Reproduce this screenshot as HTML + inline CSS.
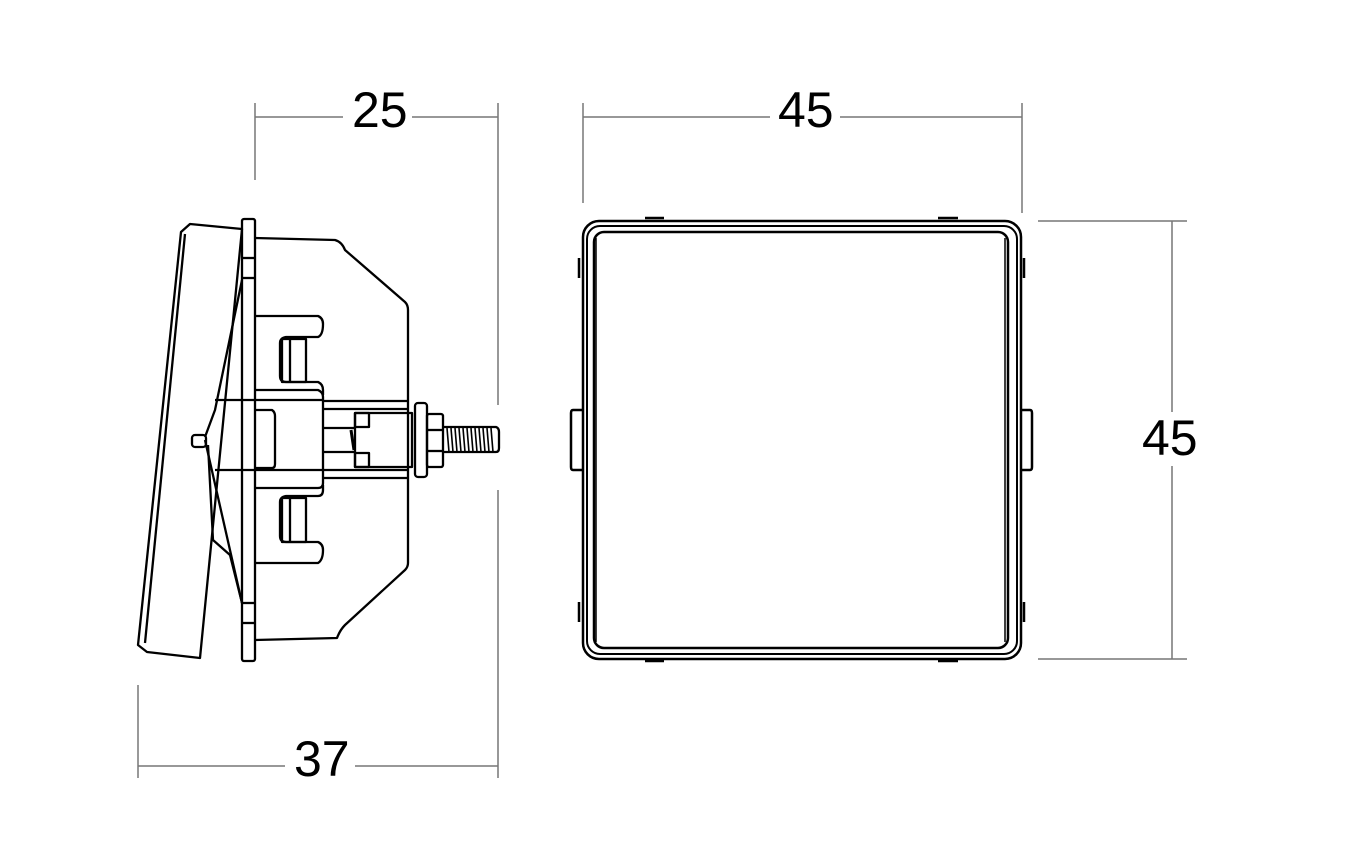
<!DOCTYPE html>
<html><head><meta charset="utf-8"><style>
html,body{margin:0;padding:0;background:#fff}
svg{display:block}
text{font-family:"Liberation Sans",Arial,sans-serif;font-size:50px;fill:#000}
</style></head><body>
<svg width="1360" height="857" viewBox="0 0 1360 857" xmlns="http://www.w3.org/2000/svg">
<g stroke="#777" stroke-width="1.5" fill="none">
  <!-- 25 -->
  <line x1="255" y1="117" x2="343" y2="117"/><line x1="412" y1="117" x2="498" y2="117"/>
  <line x1="255" y1="103" x2="255" y2="180"/>
  <line x1="498" y1="103" x2="498" y2="405"/><line x1="498" y1="490" x2="498" y2="778"/>
  <!-- 45 top -->
  <line x1="583" y1="117" x2="770" y2="117"/><line x1="840" y1="117" x2="1022" y2="117"/>
  <line x1="583" y1="103" x2="583" y2="203"/><line x1="1022" y1="103" x2="1022" y2="213"/>
  <!-- 45 right -->
  <line x1="1038" y1="221" x2="1187" y2="221"/><line x1="1038" y1="659" x2="1187" y2="659"/>
  <line x1="1172" y1="221" x2="1172" y2="412"/><line x1="1172" y1="466" x2="1172" y2="659"/>
  <!-- 37 -->
  <line x1="138" y1="766" x2="285" y2="766"/><line x1="355" y1="766" x2="498" y2="766"/>
  <line x1="138" y1="685" x2="138" y2="778"/>
</g>
<text x="352" y="127">25</text>
<text x="778" y="127">45</text>
<text x="1142" y="455">45</text>
<text x="294" y="776">37</text>

<!-- Front view -->
<g stroke="#000" stroke-width="2.5" fill="none">
  <rect x="583" y="221" width="438" height="438" rx="16"/>
  <rect x="587" y="226" width="430" height="428" rx="13" stroke-width="2"/>
  <rect x="594" y="232" width="414" height="416" rx="10"/>
  <line x1="596" y1="238" x2="596" y2="642" stroke-width="1.5"/>
  <line x1="1005" y1="238" x2="1005" y2="642" stroke-width="1.5"/>
  <path d="M583 410 H573 Q571 410 571 413 V467 Q571 470 573 470 H583"/>
  <path d="M1021 410 H1030 Q1032 410 1032 413 V467 Q1032 470 1030 470 H1021"/>
  <line x1="579" y1="258" x2="579" y2="278"/><line x1="579" y1="602" x2="579" y2="622"/>
  <line x1="1024" y1="258" x2="1024" y2="278"/><line x1="1024" y1="602" x2="1024" y2="622"/>
  <line x1="645" y1="218" x2="664" y2="218"/><line x1="938" y1="218" x2="958" y2="218"/>
  <line x1="645" y1="661" x2="664" y2="661"/><line x1="938" y1="661" x2="958" y2="661"/>
</g>

<!-- Side view -->
<g stroke="#000" stroke-width="2.3" fill="none" stroke-linejoin="round">
  <!-- front plate -->
  <polygon points="181,232 190,224 242,229 200,658 147,652 138,645"/>
  <line x1="185" y1="234" x2="145" y2="643"/>
  <!-- flange -->
  <rect x="242" y="219" width="13" height="442" rx="2"/>
  <line x1="242" y1="258" x2="255" y2="258"/><line x1="242" y1="278" x2="255" y2="278"/>
  <line x1="242" y1="603" x2="255" y2="603"/><line x1="242" y1="623" x2="255" y2="623"/>
  <!-- rocker inner lines -->
  <path d="M242 280 L215 410 L205 437"/>
  <path d="M205 440 L242 603"/>
  <path d="M208 445 L213 540 L230 555 L242 603"/>
  <rect x="192" y="435" width="14" height="12" rx="3"/>
  <!-- body -->
  <path d="M255 238 L335 240 Q342 242 345 250 L405 302 Q408 305 408 310 V563 Q408 567 405 570 L345 625 Q340 630 337 638 L255 640"/>
  <!-- clips -->
  <path d="M255 316 H318 Q323 318 323 324 Q323 335 318 337 H286 Q280 338 280 343 V376 Q280 382 286 382 H318 Q323 384 323 390 V395"/>
  <rect x="282" y="339" width="24" height="43"/>
  <line x1="290" y1="340" x2="290" y2="381"/>
  <path d="M323 485 V490 Q323 496 318 496 H286 Q280 497 280 502 V536 Q280 542 286 542 H318 Q323 544 323 550 Q323 560 318 563 H255"/>
  <rect x="282" y="498" width="24" height="44"/>
  <line x1="290" y1="499" x2="290" y2="541"/>
  <!-- center block -->
  <path d="M255 390 H318 Q323 392 323 397 V483 Q323 488 318 488 H255"/>
  <path d="M215 400 H323"/><path d="M215 470 H323"/>
  <path d="M255 410 H272 Q275 412 275 416 V464 Q275 468 272 468 H255"/>
  <!-- shaft -->
  <line x1="323" y1="401" x2="408" y2="401"/>
  <line x1="323" y1="409" x2="408" y2="409"/>
  <line x1="323" y1="470" x2="408" y2="470"/>
  <line x1="323" y1="478" x2="408" y2="478"/>
  <line x1="323" y1="428" x2="355" y2="428"/><line x1="323" y1="452" x2="355" y2="452"/>
  <!-- terminal -->
  <rect x="355" y="413" width="57" height="54"/>
  <rect x="355" y="413" width="14" height="14"/><rect x="355" y="453" width="14" height="14"/>
  <line x1="351" y1="430" x2="354" y2="450" stroke-width="3"/>
  <rect x="415" y="403" width="12" height="74" rx="3"/>
  <rect x="427" y="414" width="16" height="53" rx="2"/>
  <line x1="427" y1="430" x2="443" y2="430"/><line x1="427" y1="451" x2="443" y2="451"/>
  <path d="M443 427 H496 Q499 428 499 432 V448 Q499 452 496 452 H443"/>
</g>
<g stroke="#000" stroke-width="1.6">
  <line x1="447" y1="428" x2="449" y2="452"/><line x1="451" y1="428" x2="453" y2="452"/>
  <line x1="455" y1="428" x2="457" y2="452"/><line x1="459" y1="428" x2="461" y2="452"/>
  <line x1="463" y1="428" x2="465" y2="452"/><line x1="467" y1="428" x2="469" y2="452"/>
  <line x1="471" y1="428" x2="473" y2="452"/><line x1="475" y1="428" x2="477" y2="452"/>
  <line x1="479" y1="428" x2="481" y2="452"/><line x1="483" y1="428" x2="485" y2="452"/>
  <line x1="487" y1="428" x2="489" y2="452"/><line x1="491" y1="428" x2="493" y2="452"/>
</g>
</svg>
</body></html>
